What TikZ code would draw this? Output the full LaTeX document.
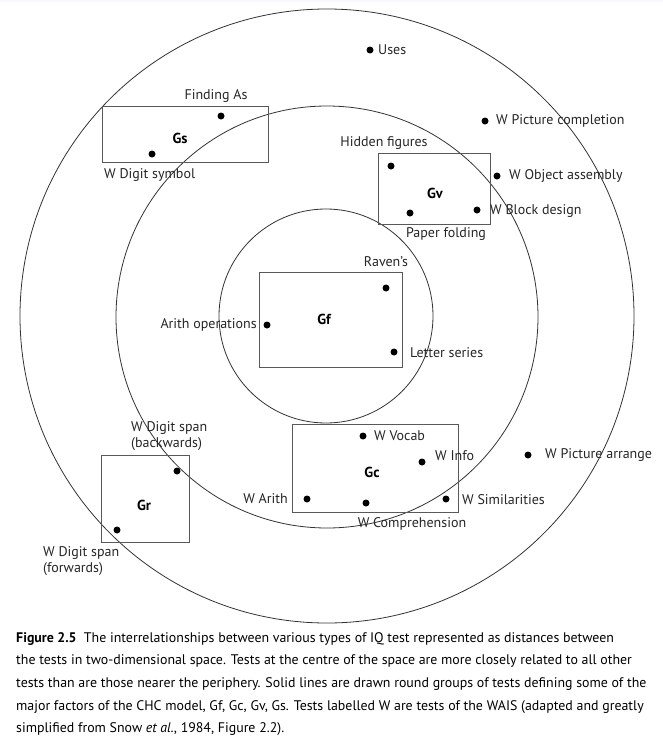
\documentclass[tikz,border=0pt]{standalone}
\usepackage{fontspec}
\setmainfont{PT Sans}
\setsansfont{PT Sans}
\begin{document}
\begin{tikzpicture}[x=1pt,y=-1pt,
  ring/.style={circle,draw=black!80,line width=0.8pt,inner sep=0pt},
  box/.style={draw=black!65,line width=0.9pt,inner sep=0pt},
  dot/.style={circle,fill=black,inner sep=0pt,minimum size=7pt},
  lab/.style={font=\fontsize{14}{16}\selectfont,text=black!85,inner sep=0pt},
  fac/.style={font=\fontsize{14.5}{16}\selectfont\bfseries,inner sep=0pt},
  captext/.style={font=\fontsize{13.9}{22.7}\selectfont,inner sep=0pt,align=left,anchor=north west}]
\useasboundingbox (0,0) rectangle (663,750);
\fill[white] (0,0) rectangle (663,750);
\fill[black!8!blue!3!white] (0,0) rectangle (663,2);
% rings
\node[ring,minimum size=614pt] (outer) at (327,316) {};
\node[ring,minimum size=422pt] (middle) at (327,317) {};
\node[ring,minimum size=214pt] (inner) at (326,316) {};
% boxes
\node[box,minimum width=166pt,minimum height=56pt] (gsbox) at (185,134) {};
\node[box,minimum width=112pt,minimum height=71pt] (gvbox) at (434,189) {};
\node[box,minimum width=143pt,minimum height=95pt] (gfbox) at (331,320) {};
\node[box,minimum width=166pt,minimum height=88pt] (gcbox) at (375,468) {};
\node[box,minimum width=88pt,minimum height=87pt] (grbox) at (145,499) {};
% factor labels
\node[fac] (gs) at (180,138) {Gs};
\node[fac] (gv) at (435,193) {Gv};
\node[fac] (gf) at (324,319) {Gf};
\node[fac] (gc) at (372,472) {Gc};
\node[fac] (gr) at (144,505) {Gr};
% dots
\node[dot] (uses) at (370,50) {};
\node[dot] (finding) at (221,116) {};
\node[dot] (wdsym) at (152,154) {};
\node[dot] (wpc) at (485,121) {};
\node[dot] (hidden) at (391,166) {};
\node[dot] (paper) at (410,213) {};
\node[dot] (wbd) at (477,210) {};
\node[dot] (woa) at (497,176) {};
\node[dot] (raven) at (386,288) {};
\node[dot] (arith) at (267,325) {};
\node[dot] (letter) at (394,352) {};
\node[dot] (wvocab) at (363,436) {};
\node[dot] (winfo) at (422,462) {};
\node[dot] (warith) at (307,499) {};
\node[dot] (wcomp) at (366,503) {};
\node[dot] (wsim) at (446,499) {};
\node[dot] (wpa) at (528,455) {};
\node[dot] (wdsb) at (177,471) {};
\node[dot] (wdsf) at (117,530) {};
% labels
\node[lab,anchor=west] (tuses) at (378,50) {Uses};
\node[lab] (tfinding) at (216,96) {Finding As};
\node[lab,anchor=west] (twdsym) at (104,175) {W Digit symbol};
\node[lab,anchor=west] (twpc) at (496,121) {W Picture completion};
\node[lab] (thidden) at (384,143) {Hidden figures};
\node[lab] (tpaper) at (446,234) {Paper folding};
\node[lab,anchor=west] (twbd) at (490,211) {W Block design};
\node[lab,anchor=west] (twoa) at (509,176) {W Object assembly};
\node[lab] (traven) at (386,262) {Raven’s};
\node[lab,anchor=east] (tarith) at (257,325) {Arith operations};
\node[lab,anchor=west] (tletter) at (410,353) {Letter series};
\node[lab,anchor=west] (twvocab) at (374,436) {W Vocab};
\node[lab,anchor=west] (twinfo) at (435,456) {W Info};
\node[lab,anchor=east] (twarith) at (288,499) {W Arith};
\node[lab] (twcomp) at (412,524) {W Comprehension};
\node[lab,anchor=west] (twsim) at (462,500) {W Similarities};
\node[lab,anchor=west] (twpa) at (545,455) {W Picture arrange};
\node[lab,anchor=west,align=left] (twdsb) at (131,436) {W Digit span\\(backwards)};
\node[lab,anchor=west,align=left] (twdsf) at (43,561) {W Digit span\\(forwards)};
% caption
\node[captext] (caption) at (16,632) {\textbf{Figure 2.5}\ \ The interrelationships between various types of IQ test represented as distances between\\
the tests in two-dimensional space. Tests at the centre of the space are more closely related to all other\\
tests than are those nearer the periphery. Solid lines are drawn round groups of tests defining some of the\\
major factors of the CHC model, Gf, Gc, Gv, Gs. Tests labelled W are tests of the WAIS (adapted and greatly\\
simplified from Snow \textit{et al.}, 1984, Figure 2.2).};
\end{tikzpicture}
\end{document}
